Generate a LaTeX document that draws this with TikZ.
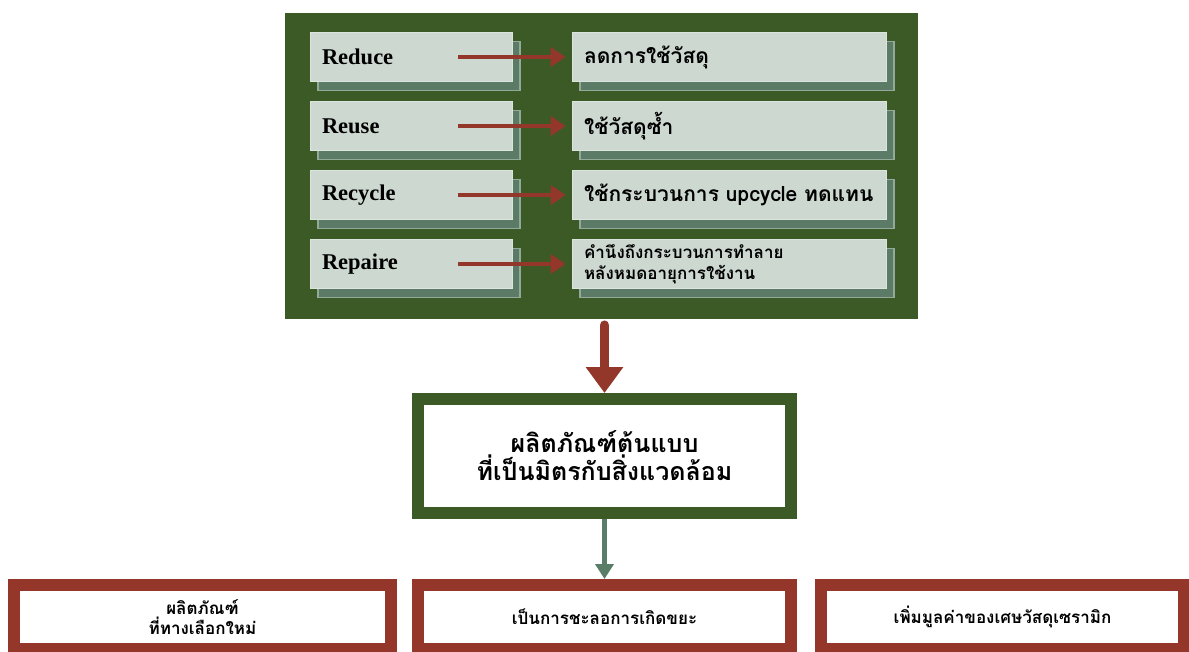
\documentclass[tikz,border=0pt]{standalone}
\usepackage{fontspec}
\setmainfont{Liberation Serif}
\newfontfamily\thaifont[Script=Thai]{Loma}
\usetikzlibrary{arrows.meta,shadows}

\definecolor{panelgreen}{HTML}{3C5A25}
\definecolor{boxfill}{HTML}{CDD8D1}
\definecolor{boxedge}{HTML}{DCE4DE}
\definecolor{shadowfill}{HTML}{5B7B66}
\definecolor{shadowedge}{HTML}{93AA9B}
\definecolor{arrowred}{HTML}{93372A}
\definecolor{midarrow}{HTML}{5A7D67}
\definecolor{bottomred}{HTML}{95362A}

\tikzset{
  panel/.style={fill=panelgreen, draw=none, inner sep=0pt,
    minimum width=633pt, minimum height=306pt},
  card/.style={fill=boxfill, draw=boxedge, line width=0.6pt,
    minimum height=49pt, inner xsep=12pt, inner ysep=2pt, align=left,
    drop shadow={shadow xshift=8pt, shadow yshift=-9pt, opacity=1,
      fill=shadowfill, draw=shadowedge, line width=1.2pt}},
  tagcard/.style={card, text width=178pt,
    font=\bfseries\fontsize{22.5}{24}\selectfont},
  desccard/.style={card, text width=290pt,
    font=\thaifont\bfseries\fontsize{21}{24}\selectfont},
  smalldesc/.style={desccard, font=\thaifont\bfseries\fontsize{17}{21}\selectfont},
  redarrow/.style={draw=arrowred, line width=4.5pt,
    -{Triangle[length=15pt,width=19pt]}},
  bigarrow/.style={draw=arrowred, line width=9.5pt, line cap=round,
    -{Triangle[length=26pt,width=36pt]}},
  smallarrow/.style={draw=midarrow, line width=4.5pt,
    -{Triangle[length=15pt,width=18pt]}},
  product/.style={draw=panelgreen, line width=12pt, fill=white,
    minimum width=373pt, minimum height=114pt, align=center,
    font=\thaifont\bfseries\fontsize{25}{28}\selectfont},
  outcome/.style={draw=bottomred, line width=12pt, fill=white,
    minimum height=64pt, align=center,
    font=\thaifont\bfseries\fontsize{17}{20}\selectfont},
}

\begin{document}
\begin{tikzpicture}[x=1pt,y=-1pt]
\useasboundingbox (0,0) rectangle (1189,651);
\clip (0,0) rectangle (1189,651);

% green panel holding the four R's
\node[panel] (panel) at (601.5,166) {};

\node[tagcard]  (L1) at (411,57)  {Reduce};
\node[desccard] (R1) at (729,57)  {ลดการใช้วัสดุ};
\node[tagcard]  (L2) at (411,126) {Reuse};
\node[desccard] (R2) at (729,126) {ใช้วัสดุซ้ำ};
\node[tagcard]  (L3) at (411,195) {Recycle};
\node[desccard] (R3) at (729,195) {ใช้กระบวนการ upcycle ทดแทน};
\node[tagcard]  (L4) at (411,264) {Repaire};
\node[smalldesc] (R4) at (729,264) {คำนึงถึงกระบวนการทำลาย\\หลังหมดอายุการใช้งาน};

\foreach \i in {1,...,4}
  \draw[redarrow] ([xshift=-54pt]L\i.east) -- ([xshift=-6pt]R\i.west);

% prototype product
\node[product] (mid) at (604.5,456) {ผลิตภัณฑ์ต้นแบบ\\ที่เป็นมิตรกับสิ่งแวดล้อม};
\coordinate (drop) at (mid.north |- panel.south);
\draw[bigarrow] ([yshift=-6pt]drop) -- (mid.north);

% outcomes
\node[outcome, minimum width=377pt] (b1) at (202.5,617) {ผลิตภัณฑ์\\ที่ทางเลือกใหม่};
\node[outcome, minimum width=373pt] (b2) at (604.5,617) {เป็นการชะลอการเกิดขยะ};
\node[outcome, minimum width=363pt] (b3) at (1002.5,617) {เพิ่มมูลค่าของเศษวัสดุเซรามิก};

\draw[smallarrow] (mid.south) -- (b2.north);
\end{tikzpicture}
\end{document}
